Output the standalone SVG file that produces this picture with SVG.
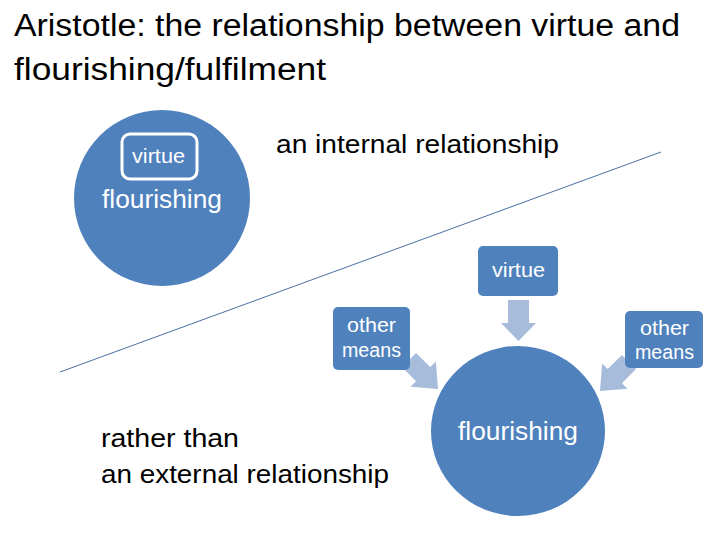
<svg xmlns="http://www.w3.org/2000/svg" width="720" height="540" viewBox="0 0 720 540">
<defs>
<style>
text{font-family:"Liberation Sans","Open Sans",Arial,sans-serif}
.title{font-size:31px;fill:#000}
.big{font-size:25px;fill:#000}
.wbig{font-size:25px;fill:#fff;text-anchor:middle}
.wsm{font-size:20px;fill:#fff;text-anchor:middle}
.node{fill:#4f81bd}
.arrow{fill:#a7bcda}
</style>
<polygon id="arr" points="0,-10 20,-10 20,-18 41,0 20,18 20,10 0,10"/>
</defs>
<rect width="720" height="540" fill="#fff"/>
<text class="title" x="14" y="36" textLength="666" lengthAdjust="spacingAndGlyphs">Aristotle: the relationship between virtue and</text>
<text class="title" x="14" y="80" textLength="312" lengthAdjust="spacingAndGlyphs">flourishing/fulfilment</text>

<g id="connectors">
<line x1="60" y1="372" x2="661" y2="152" stroke="#4a6f9f" stroke-width="1"/>
<polygon class="arrow" points="508,300 529,300 529,323 536,323 518.5,341 501,323 508,323"/>
<use href="#arr" class="arrow" transform="translate(409,360) rotate(45)"/>
<use href="#arr" class="arrow" transform="translate(629,362) rotate(135)"/>
</g>

<g id="internal-flourishing">
<circle class="node" cx="162" cy="198" r="88"/>
<text class="wbig" x="162" y="208" textLength="120" lengthAdjust="spacingAndGlyphs">flourishing</text>
</g>
<g id="internal-virtue">
<rect x="122" y="134" width="75" height="45" rx="8" fill="#4f81bd" stroke="#fff" stroke-width="3"/>
<text class="wsm" x="158.5" y="163" textLength="53" lengthAdjust="spacingAndGlyphs">virtue</text>
</g>
<text class="big" x="276" y="153" textLength="283" lengthAdjust="spacingAndGlyphs">an internal relationship</text>

<g id="virtue">
<rect class="node" x="478" y="246" width="80" height="50" rx="5"/>
<text class="wsm" x="518.5" y="277" textLength="53" lengthAdjust="spacingAndGlyphs">virtue</text>
</g>
<g id="other-means-left">
<rect class="node" x="333" y="307" width="77" height="63" rx="5"/>
<text class="wsm" x="371.5" y="332" textLength="49" lengthAdjust="spacingAndGlyphs">other</text>
<text class="wsm" x="371.5" y="357" textLength="59" lengthAdjust="spacingAndGlyphs">means</text>
</g>
<g id="other-means-right">
<rect class="node" x="625" y="311" width="78" height="57" rx="5"/>
<text class="wsm" x="664.5" y="335" textLength="49" lengthAdjust="spacingAndGlyphs">other</text>
<text class="wsm" x="664.5" y="359" textLength="59" lengthAdjust="spacingAndGlyphs">means</text>
</g>
<g id="flourishing">
<ellipse class="node" cx="518" cy="431" rx="87" ry="85"/>
<text class="wbig" x="518" y="440" textLength="120" lengthAdjust="spacingAndGlyphs">flourishing</text>
</g>

<text class="big" x="101" y="447" textLength="138" lengthAdjust="spacingAndGlyphs">rather than</text>
<text class="big" x="101" y="483" textLength="288" lengthAdjust="spacingAndGlyphs">an external relationship</text>
</svg>
